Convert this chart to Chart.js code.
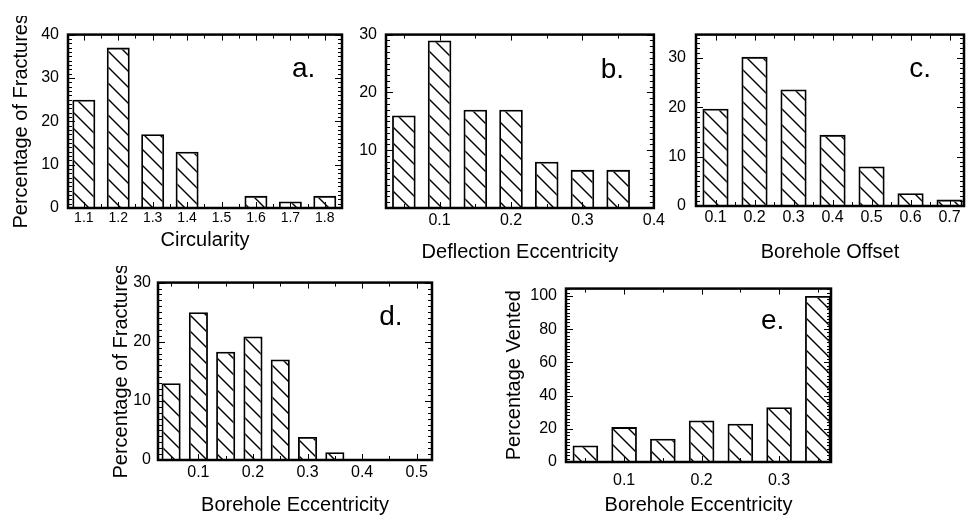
<!DOCTYPE html>
<html>
<head>
<meta charset="utf-8">
<script src="https://cdn.jsdelivr.net/npm/chart.js@4.4.1/dist/chart.umd.min.js"></script>
<style>
  body { margin: 0; background: #fff; width: 966px; height: 520px; overflow: hidden; position: relative; }
  canvas { position: absolute; }
</style>
</head>
<body>
<canvas id="chartA"></canvas>
<canvas id="chartB"></canvas>
<canvas id="chartC"></canvas>
<canvas id="chartD"></canvas>
<canvas id="chartE"></canvas>
<script>
// --- DATA ---
// a. circularity histogram
const circBins = [1.1, 1.2, 1.3, 1.4, 1.5, 1.6, 1.7, 1.8];
const circPct = [25, 37, 17, 13, 0, 2.8, 1.5, 2.8];
const circTicks = [1.1, 1.2, 1.3, 1.4, 1.5, 1.6, 1.7, 1.8];
// b. deflection eccentricity
const deflBins = [0.05, 0.1, 0.15, 0.2, 0.25, 0.3, 0.35];
const deflPct = [16, 29, 17, 17, 8, 6.6, 6.6];
const deflTicks = [0.1, 0.2, 0.3, 0.4];
// c. borehole offset
const offsetBins = [0.1, 0.2, 0.3, 0.4, 0.5, 0.6, 0.7];
const offsetPct = [19.7, 30.2, 23.6, 14.4, 8, 2.6, 1.3];
const offsetTicks = [0.1, 0.2, 0.3, 0.4, 0.5, 0.6, 0.7];
// d. borehole eccentricity
const eccBins = [0.05, 0.1, 0.15, 0.2, 0.25, 0.3, 0.35];
const eccPct = [13, 25, 18.3, 20.9, 17, 3.9, 1.3];
const eccTicks = [0.1, 0.2, 0.3, 0.4, 0.5];
// e. percentage vented vs borehole eccentricity
const ventBins = [0.05, 0.1, 0.15, 0.2, 0.25, 0.3, 0.35];
const ventPct = [10, 21, 14, 25, 23, 33, 100];
const ventTicks = [0.1, 0.2, 0.3];

const yTicksA = [0, 10, 20, 30, 40];
const yTicksB = [10, 20, 30];
const yTicksC = [0, 10, 20, 30];
const yTicksD = [0, 10, 20, 30];
const yTicksE = [0, 20, 40, 60, 80, 100];

const FONT = "'Liberation Sans', Arial, sans-serif";

// diagonal "\\\" hatch used for every bar
function hatch() {
    const s = 16;
    const c = document.createElement('canvas');
    c.width = s; c.height = s;
    const g = c.getContext('2d');
    g.strokeStyle = '#000';
    g.lineWidth = 1.4;
    for (let k = -1; k <= 1; k++) {
        g.beginPath();
        g.moveTo(-s, -s + k * s);
        g.lineTo(2 * s, 2 * s + k * s);
        g.stroke();
    }
    return g.createPattern(c, 'repeat');
}
const pattern = hatch();

// box frame with inward ticks + panel letter
const framePlugin = {
    id: 'frame',
    afterDatasetsDraw(chart, args, opts) {
        const { ctx, chartArea: a, scales: { x, y } } = chart;
        ctx.save();
        ctx.strokeStyle = '#000';
        ctx.lineWidth = 1;

        const isMajor = (v, step) => Math.abs(v / step - Math.round(v / step)) < 1e-6;

        for (let i = Math.ceil(y.min / opts.yMinor - 1e-6); i * opts.yMinor <= y.max + 1e-6; i++) {
            const v = i * opts.yMinor;
            const py = Math.round(y.getPixelForValue(v)) + 0.5;
            const len = isMajor(v, opts.yMajor) ? 7 : 4;
            ctx.beginPath();
            ctx.moveTo(a.left, py); ctx.lineTo(a.left + len, py);
            ctx.moveTo(a.right, py); ctx.lineTo(a.right - len, py);
            ctx.stroke();
        }
        for (let i = Math.ceil(x.min / opts.xMinor - 1e-6); i * opts.xMinor <= x.max + 1e-6; i++) {
            const v = i * opts.xMinor;
            const px = Math.round(x.getPixelForValue(v)) + 0.5;
            const len = isMajor(v, opts.xMajor) ? 6 : 4;
            ctx.beginPath();
            ctx.moveTo(px, a.top); ctx.lineTo(px, a.top + len);
            ctx.moveTo(px, a.bottom); ctx.lineTo(px, a.bottom - len);
            ctx.stroke();
        }

        ctx.lineWidth = 2.5;
        ctx.strokeRect(a.left, a.top, a.right - a.left, a.bottom - a.top);

        ctx.fillStyle = '#000';
        ctx.font = '28px ' + FONT;
        ctx.textAlign = 'center';
        ctx.textBaseline = 'alphabetic';
        ctx.fillText(opts.letter, a.left + opts.lx * (a.right - a.left), a.top + opts.ly * (a.bottom - a.top));
        ctx.restore();
    }
};

function makePanel(id, p) {
    const cv = document.getElementById(id);
    const left = p.yTitle ? p.yTitleX - 12 : p.plot.l - 40;
    const top = p.plot.t - 12;
    const bottom = p.xTitleY + 12;
    const right = p.plot.r + 14;
    cv.width = right - left;
    cv.height = bottom - top;
    cv.style.left = left + 'px';
    cv.style.top = top + 'px';
    const yW = p.plot.l - left;
    const xH = bottom - p.plot.b;

    return new Chart(cv, {
        type: 'bar',
        data: {
            datasets: [{
                data: p.bins.map((b, i) => ({ x: b, y: p.values[i] })),
                backgroundColor: pattern,
                borderColor: '#000',
                borderWidth: 1.8,
                barPercentage: p.barPct,
                categoryPercentage: 1
            }]
        },
        options: {
            responsive: false,
            animation: false,
            layout: { padding: { top: 12, right: 14, left: 0, bottom: 0 } },
            plugins: {
                legend: { display: false },
                tooltip: { enabled: false },
                frame: { letter: p.letter, lx: p.lx, ly: p.ly, yMinor: p.yMinor, yMajor: p.yMajor, xMinor: 0.05, xMajor: 0.1 }
            },
            scales: {
                x: {
                    type: 'linear',
                    min: p.xMin, max: p.xMax,
                    offset: false,
                    grid: { display: false, drawTicks: false },
                    border: { display: false },
                    afterBuildTicks: s => { s.ticks = p.xTicks.map(v => ({ value: v })); },
                    afterFit: s => { s.height = xH; },
                    ticks: {
                        callback: v => Number(v).toFixed(1),
                        font: { family: FONT, size: p.xFont },
                        color: '#000', padding: p.xPad, maxRotation: 0, autoSkip: false
                    },
                    title: { display: true, text: p.xTitle, font: { family: FONT, size: 20 }, color: '#000', padding: 0 }
                },
                y: {
                    min: 0, max: p.yMax,
                    grid: { display: false, drawTicks: false },
                    border: { display: false },
                    afterBuildTicks: s => { s.ticks = p.yTicks.map(v => ({ value: v })); },
                    afterFit: s => { s.width = yW; },
                    ticks: { font: { family: FONT, size: p.yFont }, color: '#000', padding: p.yPad, autoSkip: false },
                    title: p.yTitle
                        ? { display: true, text: p.yTitle, font: { family: FONT, size: 20 }, color: '#000', padding: 0 }
                        : { display: false }
                }
            }
        },
        plugins: [framePlugin]
    });
}

makePanel('chartA', {
    plot: { l: 68, t: 28, r: 342, b: 208 }, yTitle: 'Percentage of Fractures', yTitleX: 21, xTitleY: 240,
    bins: circBins, values: circPct, xTicks: circTicks, yTicks: yTicksA,
    xMin: 1.054, xMax: 1.85, yMax: 40, barPct: 0.667, yMinor: 1, yMajor: 10,
    xTitle: 'Circularity', xFont: 14, yFont: 16, xPad: 2, yPad: 9,
    letter: 'a.', lx: 0.86, ly: 0.244
});
makePanel('chartB', {
    plot: { l: 386, t: 28, r: 654, b: 208 }, yTitle: null, xTitleY: 252,
    bins: deflBins, values: deflPct, xTicks: deflTicks, yTicks: yTicksB,
    xMin: 0.025, xMax: 0.4, yMax: 30, barPct: 0.66, yMinor: 1, yMajor: 10,
    xTitle: 'Deflection Eccentricity', xFont: 16, yFont: 16, xPad: 3, yPad: 9,
    letter: 'b.', lx: 0.845, ly: 0.25
});
makePanel('chartC', {
    plot: { l: 696, t: 27, r: 964, b: 206 }, yTitle: null, xTitleY: 252,
    bins: offsetBins, values: offsetPct, xTicks: offsetTicks, yTicks: yTicksC,
    xMin: 0.05, xMax: 0.737, yMax: 34.7, barPct: 0.67, yMinor: 1, yMajor: 10,
    xTitle: 'Borehole Offset', xFont: 16, yFont: 16, xPad: 2, yPad: 10,
    letter: 'c.', lx: 0.836, ly: 0.246
});
makePanel('chartD', {
    plot: { l: 158, t: 278, r: 432, b: 460 }, yTitle: 'Percentage of Fractures', yTitleX: 121, xTitleY: 505,
    bins: eccBins, values: eccPct, xTicks: eccTicks, yTicks: yTicksD,
    xMin: 0.026, xMax: 0.528, yMax: 30, barPct: 0.7, yMinor: 1, yMajor: 10,
    xTitle: 'Borehole Eccentricity', xFont: 16, yFont: 16, xPad: 3, yPad: 7,
    letter: 'd.', lx: 0.85, ly: 0.24
});
makePanel('chartE', {
    plot: { l: 566, t: 282, r: 831, b: 462 }, yTitle: 'Percentage Vented', yTitleX: 514, xTitleY: 505,
    bins: ventBins, values: ventPct, xTicks: ventTicks, yTicks: yTicksE,
    xMin: 0.025, xMax: 0.367, yMax: 104.4, barPct: 0.66, yMinor: 2, yMajor: 20,
    xTitle: 'Borehole Eccentricity', xFont: 16, yFont: 16, xPad: 9, yPad: 9,
    letter: 'e.', lx: 0.78, ly: 0.233
});
</script>
</body>
</html>
